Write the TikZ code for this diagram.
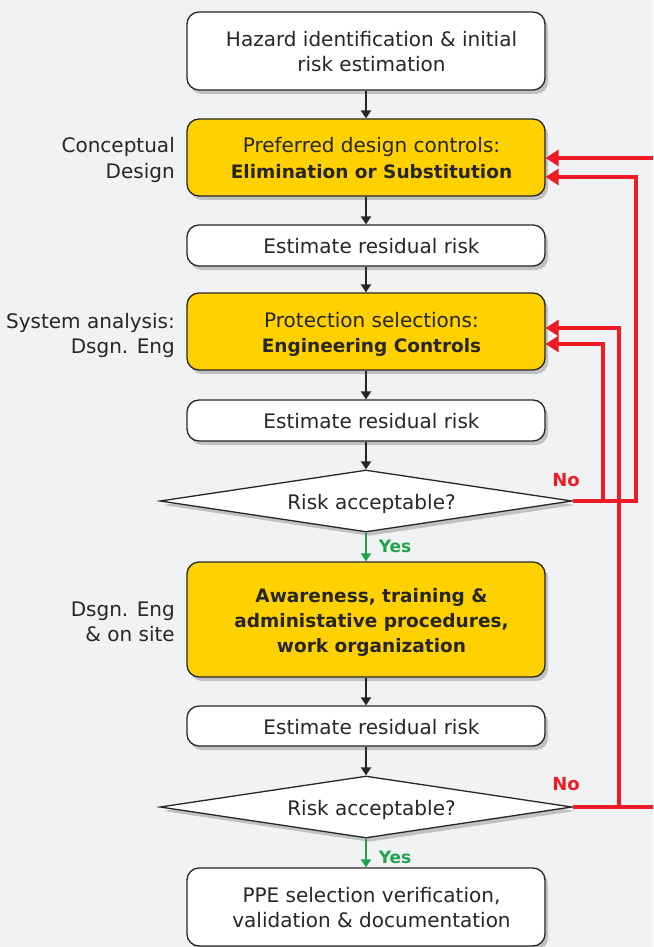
\documentclass[tikz,border=0pt]{standalone}
\usepackage{fontspec}
\setmainfont{DejaVu Sans}
\usetikzlibrary{shapes.geometric,arrows.meta,shadows,calc}
\definecolor{bgc}{HTML}{F1F2F4}
\definecolor{abbyellow}{HTML}{FFD100}
\definecolor{abbred}{HTML}{ED1C24}
\definecolor{abbgreen}{HTML}{1FA24A}
\definecolor{txt}{HTML}{262626}
\newcommand{\ctx}[1]{\raisebox{-3pt}[\height][\depth]{\begin{tabular}{@{\hspace{11pt}}c@{}}#1\end{tabular}}}
\newcommand{\rtx}[1]{\begin{tabular}{@{}r@{}}#1\end{tabular}}
\newcommand{\bx}{\fontsize{18.5}{25}\selectfont\bfseries}
\begin{document}
\begin{tikzpicture}[x=1pt,y=-1pt,
  shad/.style={drop shadow={shadow xshift=3pt, shadow yshift=-4pt, opacity=0.2, fill=black}},
  base/.style={draw=black!85, line width=1.3pt, rounded corners=12pt, minimum width=358pt,
    inner sep=0pt, text=txt, font=\fontsize{20}{25}\selectfont, shad},
  wbox/.style={base, fill=white},
  ybox/.style={base, fill=abbyellow},
  dia/.style={diamond, draw=black!85, line width=1.3pt, fill=white, shape aspect=6.6,
    minimum width=412pt, minimum height=62pt, inner sep=0pt, text=txt,
    font=\fontsize{20}{25}\selectfont, shad},
  blk/.style={line width=2pt, draw=black!85, -{Triangle[length=8pt,width=10pt]}},
  grn/.style={line width=2pt, draw=abbgreen, -{Triangle[length=8pt,width=10pt]}},
  redarr/.style={line width=4pt, draw=abbred, -{Triangle[length=13pt,width=16pt]}},
  side/.style={anchor=east, text=txt, font=\fontsize{20}{25}\selectfont, inner sep=0pt},
  yeslab/.style={text=abbgreen, font=\fontsize{17}{20}\selectfont\bfseries, inner sep=0pt},
  nolab/.style={text=abbred, font=\fontsize{18}{20}\selectfont\bfseries, inner sep=0pt}]
\useasboundingbox (0,0) rectangle (653,947);
\fill[bgc] (0,0) rectangle (653,947);
\clip (0,0) rectangle (653,947);

\node[wbox, minimum height=78pt] (n1) at (366,51) {\ctx{Hazard identification \& initial\\risk estimation}};
\node[ybox, minimum height=77pt] (n2) at (366,157.5) {\ctx{Preferred design controls:\\{\bx Elimination or Substitution}}};
\node[wbox, minimum height=41pt] (n3) at (366,245.5) {\ctx{Estimate residual risk}};
\node[ybox, minimum height=77pt] (n4) at (366,331.5) {\ctx{Protection selections:\\{\bx Engineering Controls}}};
\node[wbox, minimum height=41pt] (n5) at (366,420.5) {\ctx{Estimate residual risk}};
\node[dia] (d1) at (366,501) {\ctx{Risk acceptable?}};
\node[ybox, minimum height=115pt] (n6) at (366,619.5) {\ctx{{\bx Awareness, training \&}\\{\bx administative procedures,}\\{\bx work organization}}};
\node[wbox, minimum height=40pt] (n7) at (366,726) {\ctx{Estimate residual risk}};
\node[dia] (d2) at (366,807) {\ctx{Risk acceptable?}};
\node[wbox, minimum height=78pt] (n8) at (366,907) {\ctx{PPE selection verification,\\validation \& documentation}};

\node[side] (s1) at (175,160.5) {\rtx{Conceptual\\Design}};
\node[side] (s2) at (175,335.5) {\rtx{System analysis:\\Dsgn. Eng}};
\node[side] (s3) at (175,623.5) {\rtx{Dsgn. Eng\\\& on site}};

\draw[blk] (n1) -- (n2);
\draw[blk] (n2) -- (n3);
\draw[blk] (n3) -- (n4);
\draw[blk] (n4) -- (n5);
\draw[blk] (n5) -- (d1);
\draw[grn] (d1) -- (n6);
\draw[blk] (n6) -- (n7);
\draw[blk] (n7) -- (d2);
\draw[grn] (d2) -- (n8);

\node[yeslab] (y1) at (395,546) {Yes};
\node[yeslab] (y2) at (395,857) {Yes};
\node[nolab] (no1) at (566,480) {No};
\node[nolab] (no2) at (566,784) {No};

\draw[redarr] (d2.east) -- ++(115,0) |- ($(n2.east)+(0,0.5)$);
\draw[redarr] (d2.east) -- ++(46,0) |- ($(n4.east)+(0,-3.5)$);
\draw[redarr] (d1.east) -- ++(63,0) |- ($(n2.east)+(0,19.5)$);
\draw[redarr] (d1.east) -- ++(30,0) |- ($(n4.east)+(0,12.5)$);
\end{tikzpicture}
\end{document}
